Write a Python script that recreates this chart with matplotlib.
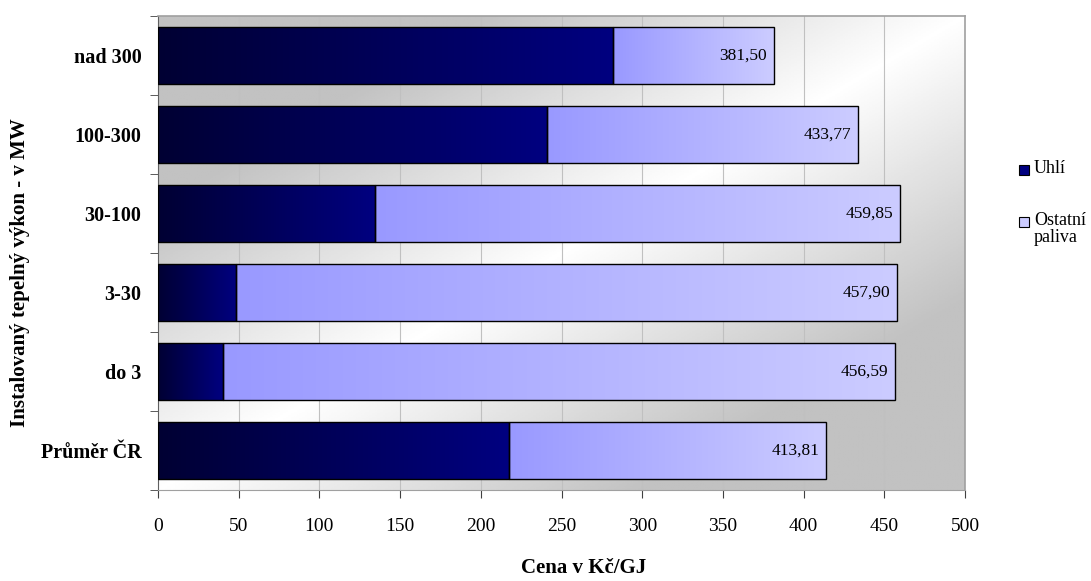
import numpy as np
import matplotlib
matplotlib.use("Agg")
import matplotlib.pyplot as plt
from matplotlib.colors import LinearSegmentedColormap
from matplotlib.patches import Rectangle

categories = ["Průměr ČR", "do 3", "3-30", "30-100", "100-300", "nad 300"]
coal = [217.4, 40.2, 48.6, 134.3, 241.0, 282.1]
totals = [413.81, 456.59, 457.90, 459.85, 433.77, 381.50]
other = [t - c for t, c in zip(totals, coal)]
total_labels = ["413,81", "456,59", "457,90", "459,85", "433,77", "381,50"]
xticks = [0, 50, 100, 150, 200, 250, 300, 350, 400, 450, 500]
series_names = ["Uhlí", "Ostatní\npaliva"]

serif = ["Liberation Serif", "DejaVu Serif"]
plt.rcParams["font.family"] = serif

W, H = 1091, 581
fig = plt.figure(figsize=(W / 100, H / 100), dpi=100)
ax = fig.add_axes([158 / W, 1 - 490 / H, (965 - 158) / W, (490 - 16) / H])

ypos = np.arange(len(categories))
ax.set_xlim(0, 500)
ax.set_ylim(-0.5, len(categories) - 0.5)

# background diagonal gradient
n = 300
gx = np.linspace(0, 1, n)
gy = np.linspace(0, 1, n)
GX, GY = np.meshgrid(gx, gy)
bg = 1 - 0.4 * np.abs(GX - GY)
bg = np.clip(bg, 0.76, 1)
ax.imshow(bg, cmap="gray", vmin=0, vmax=1, extent=[0, 500, -0.5, len(categories) - 0.5],
          origin="lower", aspect="auto", zorder=0, interpolation="bilinear")

for xv in xticks[1:]:
    ax.axvline(xv, color="#c0c0c0", lw=0.8, zorder=1)

coal_cmap = LinearSegmentedColormap.from_list("coal", ["#000033", "#000080"])
oth_cmap = LinearSegmentedColormap.from_list("oth", ["#9999ff", "#ccccff"])

h = 0.73
b1 = ax.barh(ypos, coal, height=h, color="none", edgecolor="black", lw=1.0, zorder=3)
b2 = ax.barh(ypos, other, left=coal, height=h, color="none", edgecolor="black", lw=1.0, zorder=3)

grad = np.linspace(0, 1, 256).reshape(1, -1)
for bars, cmap in ((b1, coal_cmap), (b2, oth_cmap)):
    for r in bars:
        x0, y0, w, hh = r.get_x(), r.get_y(), r.get_width(), r.get_height()
        im = ax.imshow(grad, cmap=cmap, extent=[x0, x0 + w, y0, y0 + hh],
                       aspect="auto", zorder=2, interpolation="bilinear")
        im.set_clip_path(r)

for y, t, lab in zip(ypos, totals, total_labels):
    ax.text(t - 4, y, lab, ha="right", va="center", fontsize=12.5, color="black", zorder=4)

ax.set_yticks(ypos)
ax.set_yticklabels(categories, fontsize=14.5, fontweight="bold")
ax.set_yticks(np.arange(-0.5, len(categories), 1), minor=True)
ax.tick_params(axis="y", which="major", length=0, pad=12)
ax.tick_params(axis="y", which="minor", length=6, direction="out", color="#404040")
ax.set_xticks(xticks)
ax.set_xticklabels([str(v) for v in xticks], fontsize=14)
ax.tick_params(axis="x", length=6, direction="out", color="#404040", pad=14)

ax.set_xlabel("Cena v Kč/GJ", fontsize=15, fontweight="bold")
ax.xaxis.set_label_coords(584 / W, 1 - 558 / H, transform=fig.transFigure)
ax.set_ylabel("Instalovaný tepelný výkon - v MW", fontsize=15, fontweight="bold")
ax.yaxis.set_label_coords(30 / W, 1 - 273 / H, transform=fig.transFigure)

for s in ("top", "right"):
    ax.spines[s].set_color("#a0a0a0")
    ax.spines[s].set_linewidth(1.2)
ax.spines["left"].set_color("#606060")
ax.spines["bottom"].set_color("#a0a0a0")

# legend (manual, figure pixel positions)
leg_colors = ["#000080", "#ccccff"]
leg_y = [170, 222]
for name, col, yy in zip(series_names, leg_colors, leg_y):
    fig.patches.append(Rectangle((1019 / W, 1 - (yy + 5) / H), 10 / W, 10 / H,
                                 transform=fig.transFigure, facecolor=col,
                                 edgecolor="black", lw=0.8))
    fig.text(1034 / W, 1 - (yy - 10) / H, name, ha="left", va="top", fontsize=13,
             linespacing=1.0)

fig.savefig("out.png", dpi=100)
